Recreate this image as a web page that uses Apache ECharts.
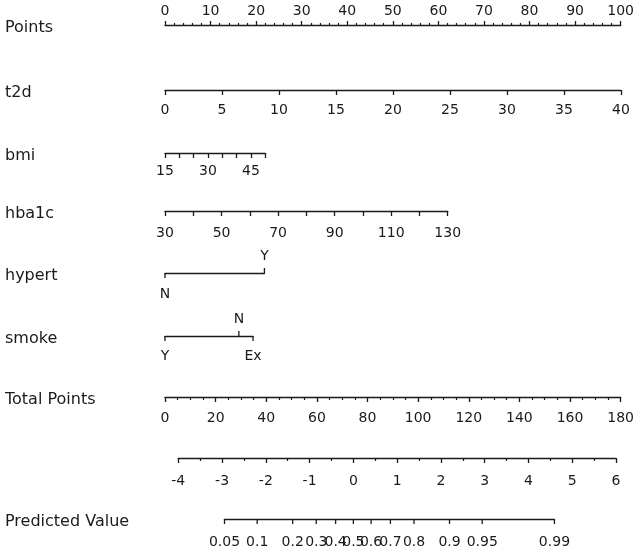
<!DOCTYPE html>
<html>
<head>
<meta charset="utf-8">
<script src="https://cdn.jsdelivr.net/npm/echarts@6/dist/echarts.min.js"></script>
<style>
  html, body { margin: 0; padding: 0; background: #fff; }
  #chart { width: 637px; height: 550px; }
</style>
</head>
<body>
<div id="chart"></div>
<script>
// row titles, top to bottom ('' = unnamed linear predictor row)
const rowNames = ['Points', 't2d', 'bmi', 'hba1c', 'hypert', 'smoke', 'Total Points', '', 'Predicted Value'];

// continuous predictors: value range and the points at both ends
const t2dRange = [0, 40];      const t2dPoints = [0, 100];
const bmiRange = [15, 50];     const bmiPoints = [0, 22];
const hba1cRange = [30, 130];  const hba1cPoints = [0, 62];

// categorical predictors
const hypertLevels = ['N', 'Y'];       const hypertPoints = [0, 21.8];
const smokeLevels = ['Y', 'N', 'Ex'];  const smokePoints = [0, 16.2, 19.3];
// which side each level label sits on (-1 above, 1 below)
const hypertSide = [1, -1];
const smokeSide = [1, -1, 1];

// total points and linear predictor
const totalRange = [0, 180];
const lpRange = [-4, 6];
const lpTotalPoints = [5.25, 178];   // total points under lp -4 and lp 6

// predicted value ticks
const predTicks = [0.05, 0.1, 0.2, 0.3, 0.4, 0.5, 0.6, 0.7, 0.8, 0.9, 0.95, 0.99];

// ---- layout ----
const X0 = 165, W = 456;
const lineY = [25, 90, 153, 211, 273, 336, 397, 458, 519];
const ink = '#1a1a1a';
const font = '"DejaVu Sans", "Liberation Sans", Arial, sans-serif';

const ptX = p => X0 + p / 100 * W;
const totX = t => X0 + (t - totalRange[0]) / (totalRange[1] - totalRange[0]) * W;
const lpX = v => totX(lpTotalPoints[0] + (v - lpRange[0]) / (lpRange[1] - lpRange[0]) * (lpTotalPoints[1] - lpTotalPoints[0]));
const logit = p => Math.log(p / (1 - p));

const grids = [], xAxes = [], yAxes = [], series = [];

function lab(margin, formatter) {
  const o = { color: ink, fontSize: 14, fontFamily: font, margin: margin };
  if (formatter) o.formatter = formatter;
  return o;
}

function baseAxis(extra) {
  return Object.assign({
    type: 'value',
    axisLine: { show: true, lineStyle: { color: ink, width: 1.4 } },
    axisTick: { show: true, length: 5, lineStyle: { color: ink, width: 1.3 } },
    minorTick: { show: false },
    axisLabel: lab(13),
    splitLine: { show: false },
    minorSplitLine: { show: false }
  }, extra);
}

function addRow(i, left, right, axis) {
  grids.push({ left: left, width: right - left, top: lineY[i] - 1, height: 1 });
  xAxes.push(Object.assign(axis, { gridIndex: i }));
  yAxes.push({ type: 'value', gridIndex: i, min: 0, max: 1, show: false });
}

function addTicks(i, xs, labels, sides, dist) {
  series.push({
    type: 'scatter', xAxisIndex: i, yAxisIndex: i, silent: true,
    data: xs.map((x, k) => ({
      value: [x, 0],
      symbolOffset: [0, sides[k] * 2.5],
      label: {
        show: true, formatter: String(labels[k]),
        position: sides[k] < 0 ? 'top' : 'bottom',
        distance: sides[k] < 0 ? 5 : dist
      }
    })),
    symbol: 'rect', symbolSize: [1.3, 5],
    itemStyle: { color: ink, opacity: 1 },
    label: { color: ink, fontSize: 14, fontFamily: font }
  });
}

// Points
addRow(0, ptX(0), ptX(100), baseAxis({
  position: 'top', min: 0, max: 100, interval: 10,
  axisTick: { show: true, length: 4, lineStyle: { color: ink, width: 1.3 } },
  minorTick: { show: true, splitNumber: 5, length: 2, lineStyle: { color: ink, width: 1.2 } },
  axisLabel: lab(6)
}));
// t2d
addRow(1, ptX(t2dPoints[0]), ptX(t2dPoints[1]), baseAxis({
  min: t2dRange[0], max: t2dRange[1], interval: 5,
  axisLabel: lab(13)
}));
// bmi
addRow(2, ptX(bmiPoints[0]), ptX(bmiPoints[1]), baseAxis({
  min: bmiRange[0], max: bmiRange[1], interval: 5,
  axisLabel: lab(11, v => ((v - bmiRange[0]) % 15 === 0 && v < bmiRange[1]) ? v : '')
}));
// hba1c
addRow(3, ptX(hba1cPoints[0]), ptX(hba1cPoints[1]), baseAxis({
  min: hba1cRange[0], max: hba1cRange[1], interval: 10,
  axisLabel: lab(15, v => (v - hba1cRange[0]) % 20 === 0 ? v : '')
}));
// hypert
addRow(4, ptX(0), ptX(Math.max(...hypertPoints)), baseAxis({
  min: 0, max: Math.max(...hypertPoints), axisTick: { show: false }, axisLabel: { show: false }
}));
addTicks(4, hypertPoints, hypertLevels, hypertSide, 9);
// smoke
addRow(5, ptX(0), ptX(Math.max(...smokePoints)), baseAxis({
  min: 0, max: Math.max(...smokePoints), axisTick: { show: false }, axisLabel: { show: false }
}));
addTicks(5, smokePoints, smokeLevels, smokeSide, 8);
// Total Points
addRow(6, totX(totalRange[0]), totX(totalRange[1]), baseAxis({
  min: totalRange[0], max: totalRange[1], interval: 20,
  minorTick: { show: true, splitNumber: 4, length: 3, lineStyle: { color: ink, width: 1.2 } },
  axisLabel: lab(14)
}));
// linear predictor
addRow(7, lpX(lpRange[0]), lpX(lpRange[1]), baseAxis({
  min: lpRange[0], max: lpRange[1], interval: 1,
  minorTick: { show: true, splitNumber: 2, length: 3, lineStyle: { color: ink, width: 1.2 } },
  axisLabel: lab(16)
}));
// Predicted Value
const predLo = logit(predTicks[0]), predHi = logit(predTicks[predTicks.length - 1]);
addRow(8, lpX(predLo), lpX(predHi), baseAxis({
  min: predLo, max: predHi, axisTick: { show: false }, axisLabel: { show: false }
}));
addTicks(8, predTicks.map(logit), predTicks, predTicks.map(() => 1), 11);

const chart = echarts.init(document.getElementById('chart'), null, { renderer: 'canvas' });
chart.setOption({
  animation: false,
  backgroundColor: '#fff',
  grid: grids,
  xAxis: xAxes,
  yAxis: yAxes,
  series: series,
  graphic: rowNames.map((name, i) => ({
    type: 'text', left: 5, top: lineY[i] - 5,
    style: { text: name, fill: ink, font: '16px ' + font }
  }))
});
</script>
</body>
</html>
